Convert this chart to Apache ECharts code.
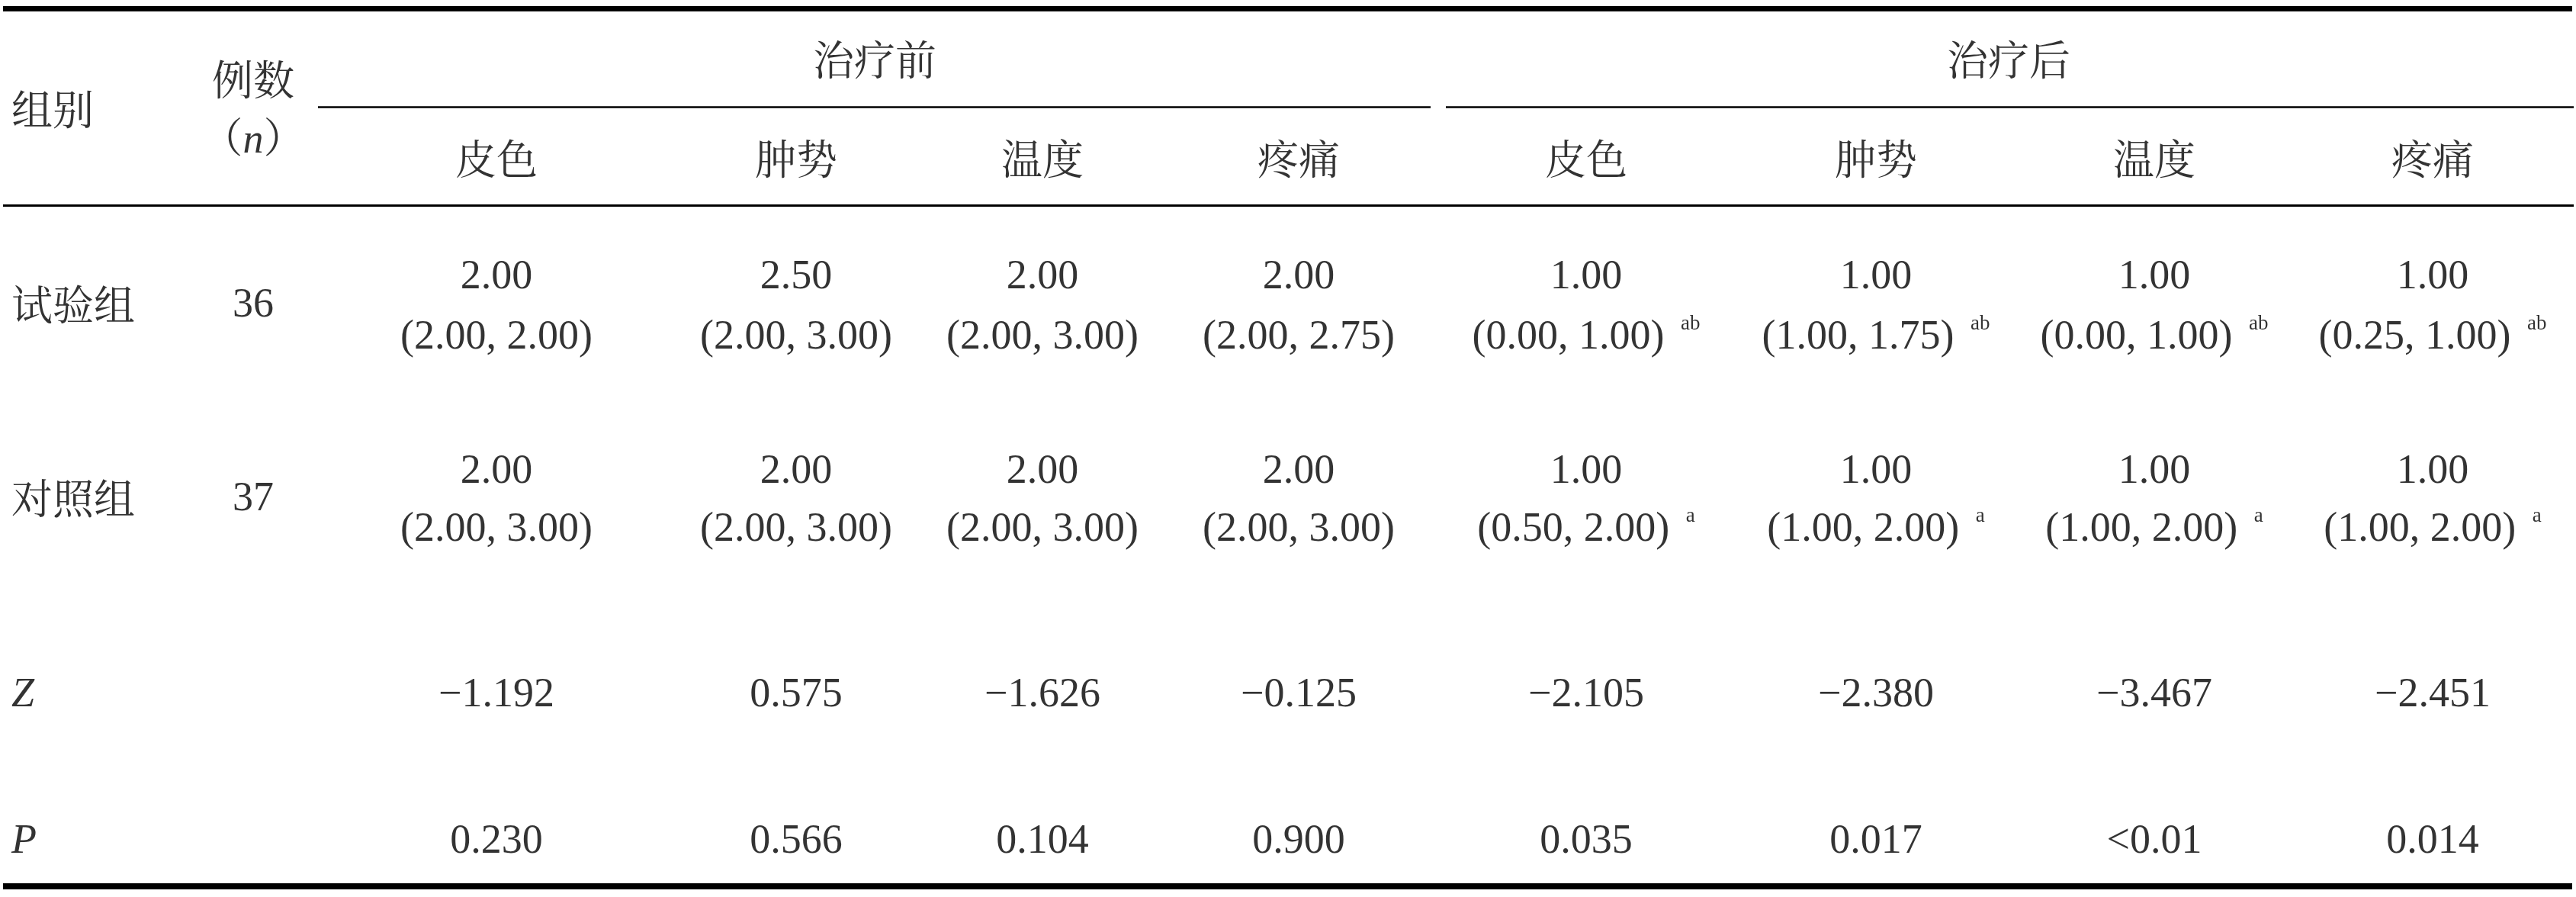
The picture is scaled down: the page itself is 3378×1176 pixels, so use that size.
<!DOCTYPE html>
<html>
<head>
<meta charset="utf-8">
<script src="https://cdn.jsdelivr.net/npm/echarts@6/dist/echarts.min.js"></script>
<style>
html,body{margin:0;padding:0;background:#fff;}
#chart{width:3378px;height:1176px;}
</style>
</head>
<body>
<div id="chart"></div>
<script>
// ---------- data ----------
const headGroup = '组别';
const headCount = '例数';
const periods = ['治疗前', '治疗后'];
const indicators = ['皮色', '肿势', '温度', '疼痛'];
const groups = ['试验组', '对照组'];
const counts = ['36', '37'];
const trialMedian = ['2.00', '2.50', '2.00', '2.00', '1.00', '1.00', '1.00', '1.00'];
const trialIQR = ['(2.00, 2.00)', '(2.00, 3.00)', '(2.00, 3.00)', '(2.00, 2.75)', '(0.00, 1.00)', '(1.00, 1.75)', '(0.00, 1.00)', '(0.25, 1.00)'];
const trialMark = ['', '', '', '', 'ab', 'ab', 'ab', 'ab'];
const controlMedian = ['2.00', '2.00', '2.00', '2.00', '1.00', '1.00', '1.00', '1.00'];
const controlIQR = ['(2.00, 3.00)', '(2.00, 3.00)', '(2.00, 3.00)', '(2.00, 3.00)', '(0.50, 2.00)', '(1.00, 2.00)', '(1.00, 2.00)', '(1.00, 2.00)'];
const controlMark = ['', '', '', '', 'a', 'a', 'a', 'a'];
const statNames = ['Z', 'P'];
const zValues = ['\u22121.192', '0.575', '\u22121.626', '\u22120.125', '\u22122.105', '\u22122.380', '\u22123.467', '\u22122.451'];
const pValues = ['0.230', '0.566', '0.104', '0.900', '0.035', '0.017', '<0.01', '0.014'];

// ---------- layout (positions in axis units = pixels) ----------
const W = 3378, H = 1176;
const leftX = 15;
const countX = 332;
const colX = [651, 1044, 1367, 1703, 2080, 2460, 2825, 3190];
const periodX = [1147, 2634];
const rowY = {
  period: 75, groupHead: 140, countHead: 101, nHead: 176, sub: 205,
  trialMed: 359, trialIQR: 438, trialLabel: 396,
  ctrlMed: 614, ctrlIQR: 690, ctrlLabel: 650,
  z: 907, p: 1099
};
const FS = 54;
const FONT = '"Liberation Serif", "Times New Roman", "Noto Serif CJK SC", "Noto Sans CJK SC", serif';
const cjkShift = 10, latinShift = 5;

const cells = [];
function cell(x, y, text, align) {
  const dy = /[\u3000-\u9fff\uff00-\uffef]/.test(text) ? cjkShift : latinShift;
  cells.push({ value: [x, y], label: { formatter: text, align: align || 'center', offset: [0, dy] } });
}
cell(leftX, rowY.groupHead, headGroup, 'left');
cell(countX, rowY.countHead, headCount);
cell(countX, rowY.nHead, '（{i|n}）');
periods.forEach((p, i) => cell(periodX[i], rowY.period, p));
colX.forEach((x, i) => cell(x, rowY.sub, indicators[i % 4]));
cell(leftX, rowY.trialLabel, groups[0], 'left');
cell(leftX, rowY.ctrlLabel, groups[1], 'left');
cell(countX, rowY.trialLabel, counts[0]);
cell(countX, rowY.ctrlLabel, counts[1]);
function withMark(t, m) { return m ? t + ' {s|' + m + '}' : t; }
colX.forEach((x, i) => {
  cell(x, rowY.trialMed, trialMedian[i]);
  cell(x, rowY.trialIQR, withMark(trialIQR[i], trialMark[i]));
  cell(x, rowY.ctrlMed, controlMedian[i]);
  cell(x, rowY.ctrlIQR, withMark(controlIQR[i], controlMark[i]));
  cell(x, rowY.z, zValues[i]);
  cell(x, rowY.p, pValues[i]);
});
cell(leftX, rowY.z, '{i|' + statNames[0] + '}', 'left');
cell(leftX, rowY.p, '{i|' + statNames[1] + '}', 'left');

const rules = [
  { coords: [[4, 11.5], [3373, 11.5]], lineStyle: { width: 7 } },
  { coords: [[417, 140.5], [1876, 140.5]], lineStyle: { width: 2.5 } },
  { coords: [[1896, 140.5], [3375, 140.5]], lineStyle: { width: 2.5 } },
  { coords: [[4, 269], [3375, 269]], lineStyle: { width: 3 } },
  { coords: [[4, 1162], [3373, 1162]], lineStyle: { width: 8 } }
];

const chart = echarts.init(document.getElementById('chart'), null, { renderer: 'canvas' });
chart.setOption({
  backgroundColor: '#ffffff',
  animation: false,
  grid: { left: 0, right: 0, top: 0, bottom: 0 },
  xAxis: { type: 'value', min: 0, max: W, show: false },
  yAxis: { type: 'value', min: 0, max: H, inverse: true, show: false },
  series: [
    {
      type: 'lines',
      coordinateSystem: 'cartesian2d',
      silent: true,
      lineStyle: { color: '#000', opacity: 1, curveness: 0 },
      data: rules
    },
    {
      type: 'scatter',
      symbolSize: 0,
      silent: true,
      data: cells,
      label: {
        show: true,
        position: 'inside',
        verticalAlign: 'middle',
        color: '#000',
        fontFamily: FONT,
        fontSize: FS,
        lineHeight: 64,
        rich: {
          i: { fontFamily: FONT, fontSize: FS, fontStyle: 'italic', color: '#000', lineHeight: 64 },
          s: { fontFamily: FONT, fontSize: 27, color: '#000', lineHeight: 30, verticalAlign: 'top', padding: [0, 0, 0, 8] }
        }
      }
    }
  ]
});
</script>
</body>
</html>
